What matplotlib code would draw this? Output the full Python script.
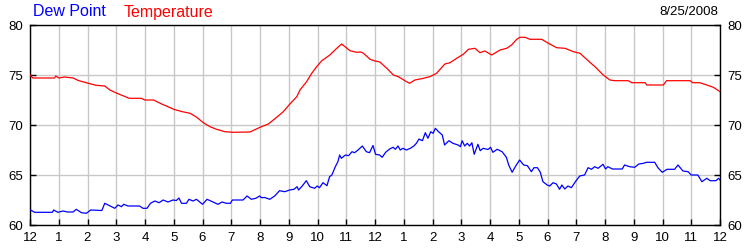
import matplotlib
matplotlib.use("Agg")
import matplotlib.pyplot as plt

plt.rcParams['font.family'] = ['Liberation Sans', 'DejaVu Sans']

# Hours since midnight (0..24) and readings
temp_hours = [0.0, 0.1, 0.85, 0.9, 1.0, 1.2, 1.5, 1.68, 2.03, 2.3, 2.6, 2.78, 3.0, 3.3, 3.45,
              3.87, 4.0, 4.3, 4.6, 4.8, 5.0, 5.3, 5.57, 5.8, 6.03, 6.26, 6.49, 6.78, 7.07,
              7.65, 8.0, 8.29, 8.58, 8.81, 9.04, 9.28, 9.39, 9.62, 9.8, 9.97, 10.15, 10.43,
              10.67, 10.84, 11.13, 11.36, 11.5, 11.6, 11.83, 12.0, 12.17, 12.41, 12.64,
              12.81, 13.04, 13.2, 13.39, 13.62, 13.91, 14.14, 14.43, 14.61, 14.84, 15.07,
              15.25, 15.48, 15.65, 15.82, 16.06, 16.35, 16.58, 16.75, 16.93, 17.04, 17.22,
              17.39, 17.8, 18.03, 18.32, 18.61, 18.9, 19.13, 19.36, 19.65, 19.94, 20.17,
              20.35, 20.81, 20.93, 21.4, 21.45, 22.03, 22.14, 22.96, 23.05, 23.3, 23.54,
              23.77, 24.0]
temp_values = [75.0, 74.7, 74.7, 74.9, 74.7, 74.8, 74.7, 74.45, 74.17, 73.97, 73.9, 73.5,
               73.2, 72.85, 72.67, 72.67, 72.5, 72.5, 72.07, 71.83, 71.57, 71.33, 71.17,
               70.77, 70.23, 69.83, 69.57, 69.33, 69.27, 69.3, 69.77, 70.1, 70.77, 71.33,
               72.1, 72.83, 73.5, 74.33, 75.17, 75.83, 76.43, 77.0, 77.67, 78.1, 77.43,
               77.27, 77.3, 77.17, 76.57, 76.4, 76.3, 75.67, 75.0, 74.83, 74.43, 74.17,
               74.5, 74.63, 74.83, 75.17, 76.1, 76.23, 76.67, 77.07, 77.57, 77.67, 77.23,
               77.4, 77.0, 77.5, 77.67, 78.0, 78.57, 78.77, 78.77, 78.57, 78.57, 78.17,
               77.73, 77.67, 77.33, 77.17, 76.57, 75.83, 75.0, 74.5, 74.43, 74.43, 74.23,
               74.23, 74.0, 74.0, 74.43, 74.43, 74.23, 74.23, 74.0, 73.77, 73.33]

dew_hours = [0.02, 0.16, 0.78, 0.82, 0.97, 1.15, 1.3, 1.5, 1.61, 1.79, 1.96, 2.11, 2.37,
             2.5, 2.6, 2.77, 2.95, 3.06, 3.18, 3.26, 3.41, 3.81, 3.93, 4.07, 4.19, 4.34,
             4.49, 4.63, 4.8, 4.97, 5.09, 5.18, 5.27, 5.44, 5.53, 5.67, 5.79, 6.0, 6.16,
             6.37, 6.54, 6.68, 6.83, 6.97, 7.04, 7.41, 7.55, 7.7, 7.85, 7.99, 8.05, 8.16,
             8.34, 8.51, 8.68, 8.86, 9.03, 9.18, 9.29, 9.34, 9.47, 9.61, 9.73, 9.9, 9.99,
             10.07, 10.19, 10.33, 10.42, 10.5, 10.62, 10.71, 10.77, 10.83, 10.97, 11.08,
             11.2, 11.29, 11.41, 11.56, 11.7, 11.81, 11.93, 12.02, 12.16, 12.25, 12.37,
             12.51, 12.63, 12.71, 12.8, 12.88, 12.97, 13.09, 13.23, 13.35, 13.44, 13.53,
             13.65, 13.75, 13.84, 13.94, 14.02, 14.1, 14.21, 14.34, 14.42, 14.57, 14.71,
             14.89, 14.97, 15.03, 15.12, 15.21, 15.29, 15.37, 15.45, 15.58, 15.66, 15.76,
             15.93, 16.02, 16.1, 16.25, 16.42, 16.57, 16.65, 16.77, 16.88, 17.03, 17.17,
             17.3, 17.44, 17.53, 17.65, 17.75, 17.84, 17.99, 18.08, 18.19, 18.31, 18.42,
             18.5, 18.6, 18.71, 18.83, 18.97, 19.12, 19.29, 19.41, 19.53, 19.64, 19.76,
             19.93, 20.02, 20.1, 20.26, 20.6, 20.68, 20.86, 21.03, 21.18, 21.34, 21.44,
             21.73, 21.84, 21.99, 22.16, 22.42, 22.54, 22.71, 22.89, 23.0, 23.23, 23.37,
             23.54, 23.66, 23.86, 23.95, 24.0]
dew_values = [61.5, 61.27, 61.27, 61.5, 61.27, 61.4, 61.3, 61.3, 61.57, 61.23, 61.17, 61.5,
              61.47, 61.45, 62.17, 61.93, 61.67, 62.0, 61.83, 62.07, 61.9, 61.9, 61.67,
              61.67, 62.17, 62.4, 62.23, 62.5, 62.3, 62.5, 62.45, 62.7, 62.17, 62.17,
              62.57, 62.4, 62.57, 62.07, 62.57, 62.3, 62.07, 62.3, 62.17, 62.17, 62.5,
              62.5, 62.9, 62.57, 62.67, 62.9, 62.73, 62.75, 62.57, 62.9, 63.43, 63.33,
              63.5, 63.57, 63.83, 63.5, 63.9, 64.43, 63.83, 63.67, 63.9, 63.73, 64.23,
              63.93, 64.83, 65.0, 65.83, 66.33, 67.0, 66.67, 67.0, 66.93, 67.33, 67.23,
              67.5, 67.9, 67.33, 67.23, 67.95, 67.07, 67.0, 66.77, 67.27, 67.6, 67.77,
              67.57, 67.9, 67.5, 67.67, 67.5, 67.67, 67.9, 68.17, 68.6, 68.43, 69.23,
              68.67, 69.33, 69.17, 69.67, 69.33, 69.0, 68.0, 68.43, 68.17, 68.0, 67.83,
              68.43, 67.9, 68.17, 67.9, 68.23, 67.07, 68.07, 67.43, 67.67, 67.55, 67.77,
              67.27, 67.57, 67.33, 66.77, 66.0, 65.27, 65.83, 66.5, 66.0, 65.93, 65.33,
              65.73, 65.73, 65.27, 64.33, 64.0, 63.9, 64.23, 64.1, 63.57, 64.0, 63.6,
              63.9, 63.73, 64.33, 64.9, 65.0, 65.73, 65.57, 65.83, 65.67, 66.07, 65.6,
              65.83, 65.6, 65.6, 66.0, 65.83, 65.77, 66.1, 66.17, 66.27, 66.27, 65.73,
              65.27, 65.57, 65.57, 66.0, 65.4, 65.33, 65.0, 65.0, 64.33, 64.67, 64.43,
              64.43, 64.67, 64.5]

tick_labels = ['12', '1', '2', '3', '4', '5', '6', '7', '8', '9', '10', '11',
               '12', '1', '2', '3', '4', '5', '6', '7', '8', '9', '10', '11', '12']
y_ticks = [60, 65, 70, 75, 80]
series_names = ['Dew Point', 'Temperature']
date_label = '8/25/2008'

fig = plt.figure(figsize=(7.5, 2.5), dpi=100)
ax = fig.add_axes([30 / 750, 25 / 250, 690 / 750, 200 / 250])

ax.plot(dew_hours, dew_values, color='#0000FF', lw=0.9, zorder=3)
ax.plot(temp_hours, temp_values, color='#FF0000', lw=0.9, zorder=3)

ax.set_xlim(0, 24)
ax.set_ylim(60, 80)
ax.set_xticks(range(len(tick_labels)))
ax.set_xticklabels(tick_labels)
ax.set_yticks(y_ticks)
ax.grid(True, color='#C8C8C8', lw=1.0, zorder=0)
ax.set_axisbelow(True)
for s in ax.spines.values():
    s.set_color('black')
    s.set_linewidth(1.0)

ax.tick_params(axis='x', direction='in', length=4, width=1, pad=5, labelsize=9.5,
               colors='black', top=False)
ax.tick_params(axis='y', direction='in', length=4, width=1, pad=5, labelsize=9.5,
               left=True, right=True, labelleft=True, labelright=True, colors='black')

fig.text(33 / 750, 1 - 12 / 250, series_names[0], color='#0000FF', fontsize=11.5,
         ha='left', va='center')
fig.text(124 / 750, 1 - 12 / 250, series_names[1], color='#FF0000', fontsize=11.5,
         ha='left', va='center')
fig.text(718 / 750, 1 - 12 / 250, date_label, color='black', fontsize=9.5,
         ha='right', va='center')

fig.savefig('out.png', dpi=100)
